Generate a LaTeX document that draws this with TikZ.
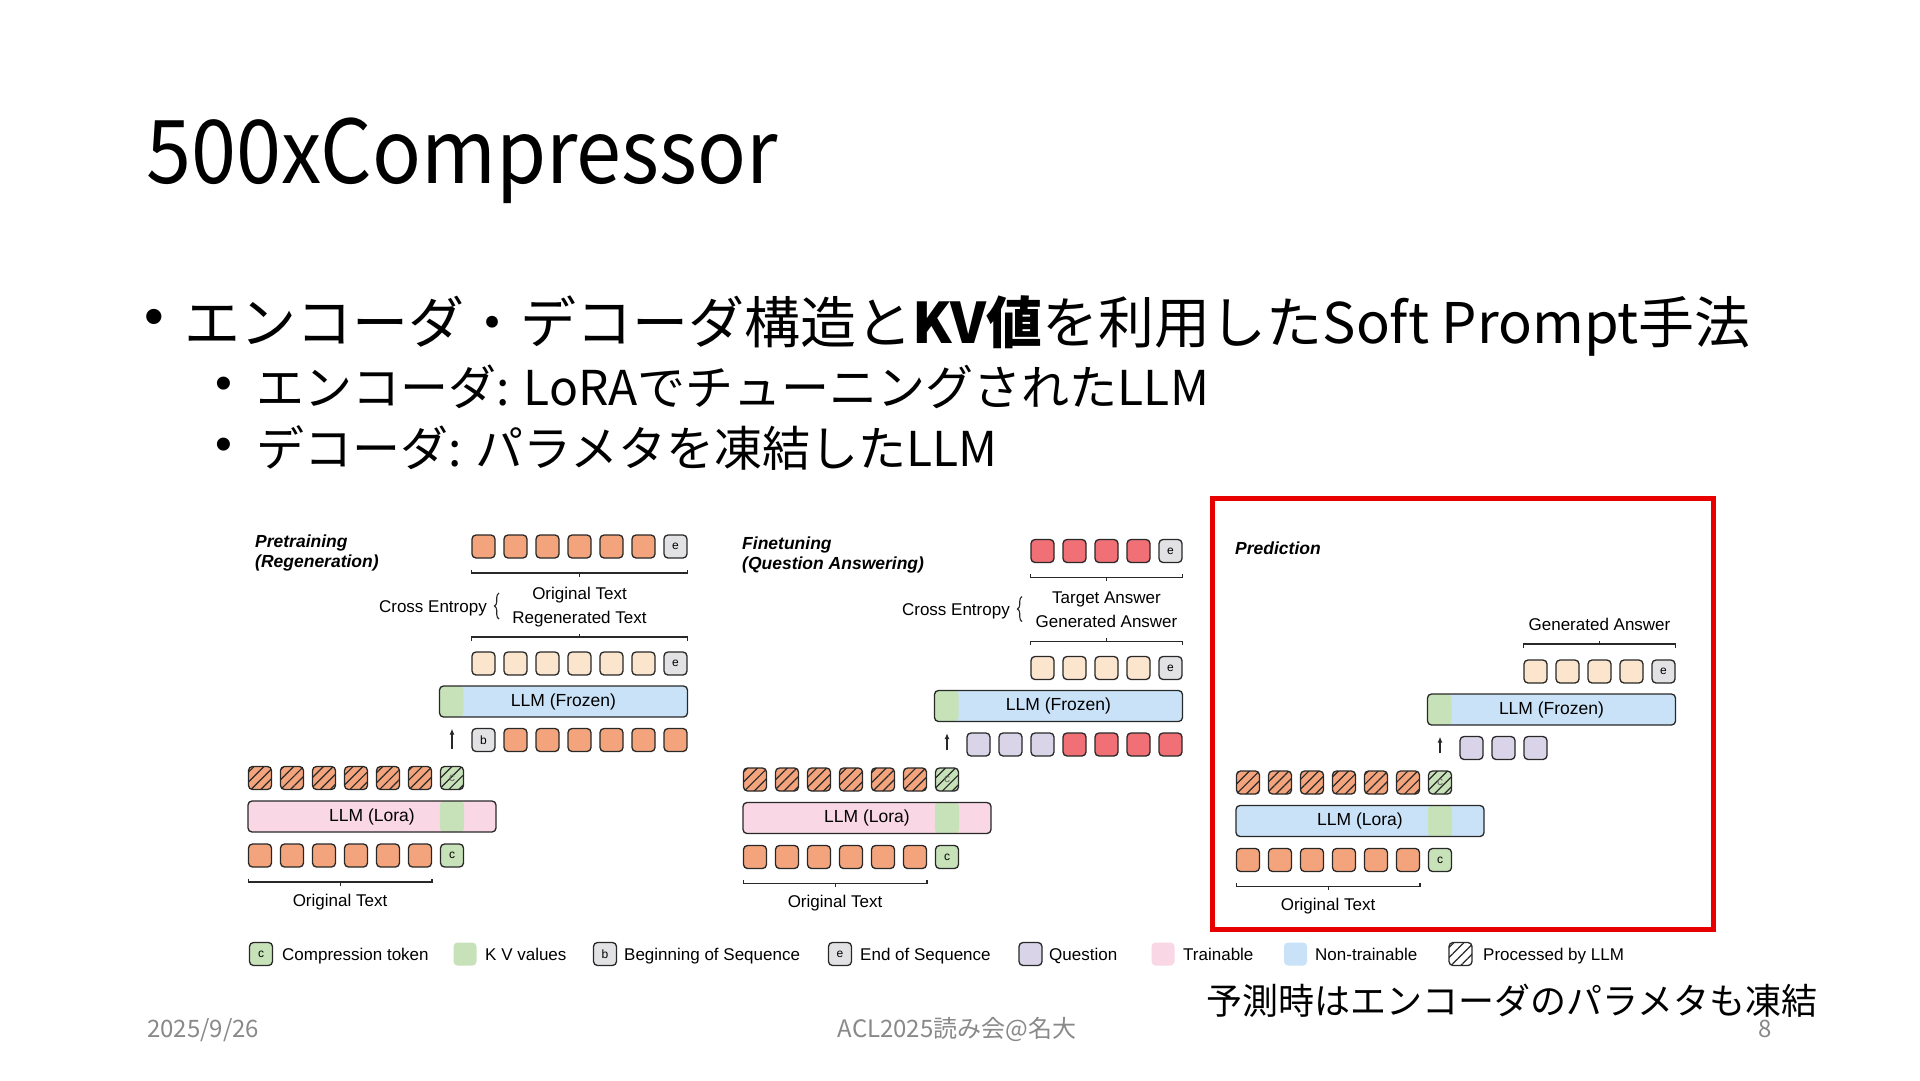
\documentclass[tikz,border=0pt]{standalone}
\usepackage{fontspec}
\setmainfont{Liberation Sans}
\newfontfamily\jp{Noto Sans CJK JP}
\newfontfamily\jptitle[FakeStretch=0.92]{Noto Sans CJK JP}
\usetikzlibrary{patterns.meta,decorations.pathreplacing,arrows.meta,calc}
\definecolor{cOr}{RGB}{243,164,124}
\definecolor{cPe}{RGB}{252,229,205}
\definecolor{cRd}{RGB}{240,112,118}
\definecolor{cGy}{RGB}{226,226,229}
\definecolor{cGn}{RGB}{199,226,185}
\definecolor{cPu}{RGB}{218,212,233}
\definecolor{cPk}{RGB}{249,215,229}
\definecolor{cBl}{RGB}{201,226,247}
\definecolor{cLn}{RGB}{40,40,40}
\definecolor{cRed}{RGB}{232,0,0}
\definecolor{cFoot}{RGB}{137,137,137}
\tikzset{
 tok/.style={draw=cLn, line width=1.3pt, rounded corners=4pt, minimum width=23pt, minimum height=23pt, inner sep=0pt, font=\fontsize{12}{12}\selectfont},
 htok/.style={tok, pattern={Lines[angle=45,distance=7pt,line width=1.2pt]}, pattern color=cLn},
 bar/.style={draw=cLn, line width=1.3pt, rounded corners=4pt, minimum height=31pt, inner sep=0pt, font=\fontsize{17.5}{17.5}\selectfont},
 lbl/.style={inner sep=0pt, font=\fontsize{17}{17}\selectfont, text height=12pt, text depth=0pt},
 ttl/.style={inner sep=0pt, anchor=west, align=left, font=\fontsize{17.5}{20.5}\selectfont\bfseries\itshape},
 brk/.style={line width=1.3pt, draw=cLn},
 arr/.style={line width=1.5pt, draw=cLn, -{Latex[length=6pt,width=5pt]}},
 jpt/.style={inner sep=0pt, anchor=base west, text=black},
 foot/.style={inner sep=0pt, text=cFoot, font=\jp\fontsize{24}{24}\selectfont},
}
\newcommand{\tokrow}[5]{\foreach \k in {#2,...,#3}{\node[tok,fill=#5] (#1\k) at ({483.5+32*\k},#4) {};}}
\newcommand{\upbrk}[3]{\draw[brk] (#1,#3+3.5) -- (#1,#3) -- (#2,#3) -- (#2,#3+3.5);
 \draw[brk] ({(#1+#2)/2},#3) -- ({(#1+#2)/2},#3-3.5);}
\newcommand{\dnbrk}[3]{\draw[brk] (#1,#3-3.5) -- (#1,#3) -- (#2,#3) -- (#2,#3-3.5);
 \draw[brk] ({(#1+#2)/2},#3) -- ({(#1+#2)/2},#3+3.5);}
\newcommand{\frozenbar}[1]{\node[bar,fill=cBl,minimum width=248pt,path picture={\fill[cGn] (path picture bounding box.south west) rectangle ([xshift=24pt]path picture bounding box.north west);}] (#1fz) at (563.5,701.5) {LLM (Frozen)};}
\newcommand{\encoder}[4]{%
\begin{scope}[shift={(#2,#3)}]
 \foreach \i in {0,...,5}{\node[tok,fill=cOr] (#1b\i) at ({260+32*\i},855.5) {};}
 \node[tok,fill=cGn] (#1bc) at (452,855.5) {c};
 \foreach \i in {0,...,5}{\node[htok,preaction={fill=cOr}] (#1h\i) at ({260+32*\i},778) {};}
 \node[htok,preaction={fill=cGn},text=cLn!70] (#1hc) at (452,778) {c};
 \node[bar,fill=#4,minimum width=248pt,path picture={\fill[cGn] (#1hc.west |- path picture bounding box.south) rectangle (#1hc.east |- path picture bounding box.north);}] (#1lora) at (372,816.5) {LLM (Lora)};
 \dnbrk{248.5}{432}{882}
 \node[lbl] (#1ot) at (340,900) {Original Text};
\end{scope}}
\begin{document}
\begin{tikzpicture}[x=1pt,y=-1pt]
\useasboundingbox (0,0) rectangle (1920,1080);
\fill[white] (0,0) rectangle (1920,1080);

% slide texts
\node[jpt,font=\jptitle\fontsize{88}{88}\selectfont] (title) at (146,183) {500xCompressor};
\node[inner sep=0pt,font=\fontsize{56}{56}\selectfont] (d0) at (154,322) {•};
\node[jpt,font=\jp\fontsize{56}{56}\selectfont] (b0) at (184,343) {エンコーダ・デコーダ構造と{\bfseries KV値}を利用したSoft Prompt手法};
\node[inner sep=0pt,font=\fontsize{48}{48}\selectfont] (d1) at (224,388) {•};
\node[jpt,font=\jp\fontsize{48}{48}\selectfont] (b1) at (256,405) {エンコーダ: LoRAでチューニングされたLLM};
\node[inner sep=0pt,font=\fontsize{48}{48}\selectfont] (d2) at (224,449) {•};
\node[jpt,font=\jp\fontsize{48}{48}\selectfont] (b2) at (256,466) {デコーダ: パラメタを凍結したLLM};

% ===== Panel 1: Pretraining =====
\node[ttl] (t1) at (255,553) {Pretraining\\(Regeneration)};
\encoder{p1}{0}{0}{cPk}
\begin{scope}
 \tokrow{p1t}{0}{5}{546.5}{cOr}
 \node[tok,fill=cGy] (p1te) at (675.5,546.5) {e};
 \dnbrk{471.5}{687.5}{573}
 \node[lbl] (p1ot) at (579.5,593) {Original Text};
 \node[lbl] (p1rt) at (579.5,617.5) {Regenerated Text};
 \node[lbl,anchor=east] (p1ce) at (487,606) {Cross Entropy};
 \draw[brk,line width=1.1pt,decorate,decoration={brace,amplitude=4.5pt}] (499,619) -- (499,593);
 \upbrk{471.5}{687.5}{637}
 \tokrow{p1p}{0}{5}{663.5}{cPe}
 \node[tok,fill=cGy] (p1pe) at (675.5,663.5) {e};
 \frozenbar{p1}
 \node[tok,fill=cGy] (p1ib) at (483.5,740) {b};
 \tokrow{p1i}{1}{6}{740}{cOr}
\end{scope}
\draw[arr] ([yshift=17pt]p1hc.north) -- ([yshift=-11pt]p1hc.north |- p1fz.south);

% ===== Panel 2: Finetuning =====
\node[ttl] (t2) at (742,555) {Finetuning\\(Question Answering)};
\encoder{p2}{495}{1.5}{cPk}
\begin{scope}[shift={(495,4.5)}]
 \tokrow{p2t}{2}{5}{546.5}{cRd}
 \node[tok,fill=cGy] (p2te) at (675.5,546.5) {e};
 \dnbrk{535.5}{687.5}{573}
 \node[lbl] (p2ta) at (611.5,593) {Target Answer};
 \node[lbl] (p2ga) at (611.5,617) {Generated Answer};
 \node[lbl,anchor=east] (p2ce) at (515,605) {Cross Entropy};
 \draw[brk,line width=1.1pt,decorate,decoration={brace,amplitude=4.5pt}] (527,617) -- (527,592);
 \upbrk{535.5}{687.5}{637}
 \tokrow{p2p}{2}{5}{663.5}{cPe}
 \node[tok,fill=cGy] (p2pe) at (675.5,663.5) {e};
 \frozenbar{p2}
 \tokrow{p2q}{0}{2}{740}{cPu}
 \tokrow{p2i}{3}{6}{740}{cRd}
\end{scope}
\draw[arr] ([yshift=17pt]p2hc.north) -- ([yshift=-11pt]p2hc.north |- p2fz.south);

% ===== Panel 3: Prediction =====
\draw[line width=5pt,draw=cRed] (1212.5,498.5) rectangle (1713.5,929.5);
\node[ttl] (t3) at (1235,548) {Prediction};
\encoder{p3}{988}{4.5}{cBl}
\begin{scope}[shift={(988,8)}]
 \node[lbl] (p3ga) at (611.5,616) {Generated Answer};
 \upbrk{535.5}{687.5}{636}
 \tokrow{p3p}{2}{5}{663.5}{cPe}
 \node[tok,fill=cGy] (p3pe) at (675.5,663.5) {e};
 \frozenbar{p3}
 \tokrow{p3q}{0}{2}{740}{cPu}
\end{scope}
\draw[arr] ([yshift=17pt]p3hc.north) -- ([yshift=-11pt]p3hc.north |- p3fz.south);

% ===== Legend =====
\node[tok,fill=cGn] (lc) at (261,954) {c};
\node[lbl,anchor=west] (lct) at (282,954) {Compression token};
\node[tok,draw=none,fill=cGn] (lkv) at (465,954) {};
\node[lbl,anchor=west] (lkvt) at (485,954) {K V values};
\node[tok,fill=cGy] (lb) at (605,954) {b};
\node[lbl,anchor=west] (lbt) at (624,954) {Beginning of Sequence};
\node[tok,fill=cGy] (le) at (840,954) {e};
\node[lbl,anchor=west] (let) at (860,954) {End of Sequence};
\node[tok,fill=cPu] (lq) at (1030.5,954) {};
\node[lbl,anchor=west] (lqt) at (1049,954) {Question};
\node[tok,draw=none,fill=cPk] (lt) at (1163,954) {};
\node[lbl,anchor=west] (ltt) at (1183,954) {Trainable};
\node[tok,draw=none,fill=cBl] (ln) at (1295.5,954) {};
\node[lbl,anchor=west] (lnt) at (1315,954) {Non-trainable};
\node[htok,preaction={fill=white}] (lh) at (1460.5,954) {};
\node[lbl,anchor=west] (lht) at (1483,954) {Processed by LLM};

% notes and footer
\node[jpt,font=\jp\fontsize{36}{36}\selectfont] (note) at (1206,1014) {予測時はエンコーダのパラメタも凍結};
\node[foot,anchor=base west] (date) at (147,1037) {2025/9/26};
\node[foot,anchor=base] (conf) at (957,1037) {ACL2025読み会@名大};
\node[foot,anchor=base east] (pg) at (1772,1037) {8};
\end{tikzpicture}
\end{document}
